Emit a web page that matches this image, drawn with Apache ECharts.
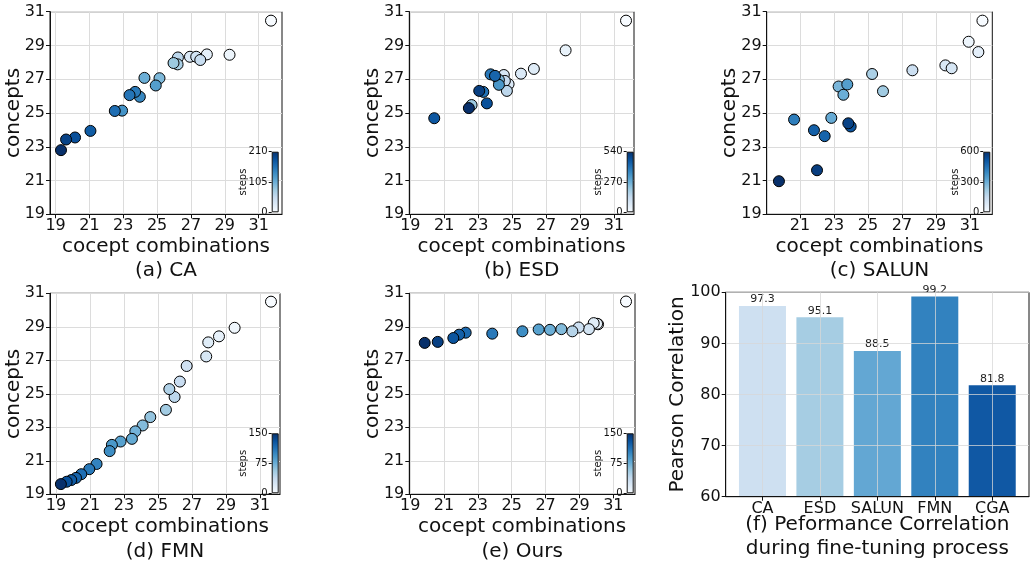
<!DOCTYPE html>
<html>
<head>
<meta charset="utf-8">
<script src="https://cdn.jsdelivr.net/npm/echarts@6/dist/echarts.min.js"></script>
<style>html,body{margin:0;padding:0;background:#fff}#c{width:1030px;height:561px}</style>
</head>
<body>
<div id="c"></div>
<script>
// ---------- data ----------
const xTicks = [19, 21, 23, 25, 27, 29, 31];
const yTicks = [19, 21, 23, 25, 27, 29, 31];
const panelTitles = ['(a) CA', '(b) ESD', '(c) SALUN', '(d) FMN', '(e) Ours'];
const stepMax = [210, 540, 600, 150, 150];

// [cocept combinations, concepts, steps]
const dataCA = [
  [31.73,30.47,0],[29.28,28.45,10],[27.94,28.47,20],[26.94,28.33,30],[27.31,28.33,40],
  [27.55,28.14,50],[26.23,28.29,60],[26.21,27.88,70],[25.97,27.96,80],[25.14,27.06,95],
  [24.25,27.08,105],[24.92,26.63,120],[22.93,25.14,130],[23.98,25.96,140],[23.70,26.25,150],
  [23.37,26.06,155],[22.50,25.12,160],[21.06,23.94,175],[20.15,23.55,185],[19.62,23.43,195],
  [19.32,22.80,210]
];
const dataESD = [
  [31.71,30.47,0],[28.15,28.71,40],[26.28,27.61,65],[25.52,27.33,75],[24.79,26.71,80],
  [24.51,27.25,90],[24.57,26.90,135],[24.69,26.31,150],[22.61,25.47,205],[24.22,26.96,240],
  [24.22,26.67,325],[23.73,27.29,390],[23.06,26.31,510],[23.30,26.25,405],[23.99,27.20,430],
  [20.41,24.69,460],[23.51,25.57,475],[22.45,25.29,540]
];
const dataSALUN = [
  [31.73,30.47,0],[30.92,29.22,30],[31.49,28.61,60],[29.55,27.82,90],[29.92,27.65,100],
  [27.61,27.53,130],[25.24,27.31,200],[25.88,26.29,220],[23.27,26.57,280],[23.55,26.08,300],
  [22.84,24.71,310],[23.78,26.69,340],[20.65,24.61,420],[22.45,23.63,480],[21.82,23.98,490],
  [23.98,24.20,520],[23.84,24.39,560],[22.00,21.61,570],[19.76,20.96,600]
];
const dataFMN = [
  [31.65,30.50,0],[29.51,28.94,6],[28.59,28.43,12],[27.96,28.07,18],[27.84,27.23,24],
  [26.69,26.66,30],[26.29,25.73,36],[25.98,24.81,42],[25.67,25.28,48],[25.47,24.04,54],
  [24.55,23.61,60],[24.10,23.11,66],[23.67,22.76,72],[23.47,22.31,78],[22.80,22.15,84],
  [22.29,21.95,90],[22.16,21.58,96],[21.39,20.81,102],[20.96,20.50,108],[20.49,20.20,114],
  [20.18,19.98,120],[19.90,19.85,126],[19.63,19.75,132],[19.29,19.61,150]
];
const dataOurs = [
  [31.75,30.51,0],[30.10,29.15,6],[30.04,29.18,12],[29.84,29.22,18],[29.56,28.86,27],
  [28.95,28.96,33],[28.58,28.73,45],[27.93,28.86,66],[27.26,28.82,75],[26.59,28.84,84],
  [25.63,28.73,96],[23.85,28.59,108],[22.28,28.65,117],[21.89,28.53,123],[21.55,28.33,129],
  [20.63,28.10,141],[19.86,28.04,150]
];
const scatterData = [dataCA, dataESD, dataSALUN, dataFMN, dataOurs];

const barCategories = ['CA', 'ESD', 'SALUN', 'FMN', 'CGA'];
const barValues = [97.3, 95.1, 88.5, 99.2, 81.8];

// ---------- styles / layout ----------
const FONT = 'DejaVu Sans';
const blues = ['#f7fbff','#deebf7','#c6dbef','#9ecae1','#6baed6','#4292c6','#2171b5','#08519c','#08306b'];
const barColors = ['#cee0f1','#a6cde3','#63a7d3','#3282bf','#1058a4'];
const grids = [
  {left:50,   top:11.7,  width:232,   height:202.6},
  {left:409.3,top:11.7,  width:224.7, height:202.6},
  {left:766.7,top:11.7,  width:225.6, height:202.6},
  {left:50,   top:293.3, width:230,   height:201},
  {left:409.3,top:293.3, width:225.7, height:201}
];
const xRanges = [[18.67,32.38],[18.94,32.18],[19.04,32.31],[18.65,32.18],[18.95,32.28]];
const yNameGaps = [26.5, 26.5, 26.5, 26.5, 26.5];
const cbars = [
  {left:271.7, top:151.7, width:7, height:60.6},
  {left:626.7, top:151.7, width:7, height:60.6},
  {left:983.3, top:151.7, width:7, height:60.6},
  {left:271.7, top:433.3, width:7, height:60},
  {left:626.7, top:433.3, width:7, height:60}
];
const barGrid = {left:725.7, top:292.3, width:303.3, height:204.4};

const chart = echarts.init(document.getElementById('c'), null, {renderer:'canvas'});
const option = {
  animation:false,
  backgroundColor:'#fff',
  textStyle:{fontFamily:FONT},
  grid:[], xAxis:[], yAxis:[], series:[], visualMap:[], graphic:[]
};
const spine = {show:true, onZero:false, lineStyle:{color:'#111', width:1}};
const gridLine = {show:true, lineStyle:{color:'#dcdcdc', width:1}};

for (let i = 0; i < 5; i++) {
  const g = grids[i];
  option.grid.push(Object.assign({show:true, borderColor:'#111', borderWidth:1, backgroundColor:'transparent'}, g));
  option.xAxis.push({
    type:'value', gridIndex:i, min:xRanges[i][0], max:xRanges[i][1],
    axisLine:spine,
    axisTick:{show:true, length:4, inside:false, customValues:xTicks, lineStyle:{color:'#111'}},
    axisLabel:{customValues:xTicks, fontSize:16, color:'#111', margin:4, fontFamily:FONT},
    splitLine:gridLine,
    name:'cocept combinations', nameLocation:'middle', nameGap:22, nameMoveOverlap:false,
    nameTextStyle:{fontSize:20, color:'#111', fontFamily:FONT}
  });
  option.yAxis.push({
    type:'value', gridIndex:i, min:19, max:31,
    axisLine:spine,
    axisTick:{show:true, length:4, inside:false, customValues:yTicks, lineStyle:{color:'#111'}},
    axisLabel:{customValues:yTicks, fontSize:16, color:'#111', margin:5, fontFamily:FONT},
    splitLine:gridLine,
    name:'concepts', nameLocation:'middle', nameGap:yNameGaps[i], nameRotate:90, nameMoveOverlap:false,
    nameTextStyle:{fontSize:20, color:'#111', fontFamily:FONT}
  });
  option.series.push({
    type:'scatter', xAxisIndex:i, yAxisIndex:i,
    data:scatterData[i].slice().sort((a,b)=>a[2]-b[2]),
    symbol:'circle', symbolSize:11,
    itemStyle:{borderColor:'#000', borderWidth:1, opacity:1},
    z:3
  });
  option.visualMap.push({
    type:'continuous', show:false, seriesIndex:option.series.length-1, dimension:2,
    min:0, max:stepMax[i], inRange:{color:blues}
  });
  option.graphic.push({
    type:'text',
    x:g.left + g.width/2, y:(i < 3 ? 271 : 552),
    style:{text:panelTitles[i], font:'20px "'+FONT+'"', fill:'#111', align:'center', verticalAlign:'middle'}
  });
}

// bar chart (f)
option.grid.push(Object.assign({show:true, borderColor:'#111', borderWidth:1, backgroundColor:'transparent'}, barGrid));
const barTickIdx = barCategories.map((c, i) => i);
option.xAxis.push({
  type:'value', gridIndex:5, min:-0.64, max:4.64, z:5,
  axisLine:spine,
  axisTick:{show:true, length:4, customValues:barTickIdx, lineStyle:{color:'#111'}},
  axisLabel:{customValues:barTickIdx, formatter:v => barCategories[Math.round(v)], fontSize:16, color:'#111', margin:4, fontFamily:FONT},
  splitLine:{show:true, lineStyle:{color:'rgba(215,215,215,0.75)', width:1}}
});
option.yAxis.push({
  type:'value', gridIndex:5, min:60, max:100, interval:10, z:5,
  axisLine:spine,
  axisTick:{show:true, length:4, lineStyle:{color:'#111'}},
  axisLabel:{fontSize:16, color:'#111', margin:5, fontFamily:FONT},
  splitLine:{show:true, lineStyle:{color:'rgba(215,215,215,0.75)', width:1}},
  name:'Pearson Correlation', nameLocation:'middle', nameGap:38, nameRotate:90, nameMoveOverlap:false,
  nameTextStyle:{fontSize:20, color:'#111', fontFamily:FONT}
});
option.series.push({
  type:'bar', xAxisIndex:5, yAxisIndex:5, barWidth:47, z:1,
  data:barValues.map((v, i) => ({value:[i, v], itemStyle:{color:barColors[i]}})),
  label:{show:true, position:'top', distance:1, fontSize:11, color:'#222', fontFamily:FONT,
         formatter:p => p.value[1].toFixed(1)}
});
option.graphic.push({
  type:'text', x:barGrid.left + barGrid.width/2, y:537,
  style:{text:'(f) Peformance Correlation\nduring fine-tuning process', font:'20px "'+FONT+'"', lineHeight:24,
         fill:'#111', align:'center', verticalAlign:'middle'}
});

// colorbars
const cbGradient = new echarts.graphic.LinearGradient(0, 0, 0, 1,
  blues.slice().reverse().map((c, k) => ({offset:k/(blues.length-1), color:c})));
for (let i = 0; i < 5; i++) {
  const gi = option.grid.length;
  option.grid.push(Object.assign({show:false}, cbars[i]));
  option.xAxis.push({type:'category', gridIndex:gi, data:[''], show:false, boundaryGap:true});
  option.yAxis.push({
    type:'value', gridIndex:gi, min:0, max:stepMax[i], interval:stepMax[i]/2, position:'left',
    axisLine:{show:false}, splitLine:{show:false},
    axisTick:{show:true, length:3, lineStyle:{color:'#111'}},
    axisLabel:{fontSize:10, color:'#111', margin:4, fontFamily:FONT},
    name:'steps', nameLocation:'middle', nameGap:23, nameRotate:90, nameMoveOverlap:false,
    nameTextStyle:{fontSize:10, color:'#111', fontFamily:FONT}
  });
  option.series.push({
    type:'bar', xAxisIndex:gi, yAxisIndex:gi, data:[stepMax[i]], barWidth:'100%',
    itemStyle:{color:cbGradient, borderColor:'#111', borderWidth:1}, silent:true
  });
}

chart.setOption(option);
</script>
</body>
</html>
